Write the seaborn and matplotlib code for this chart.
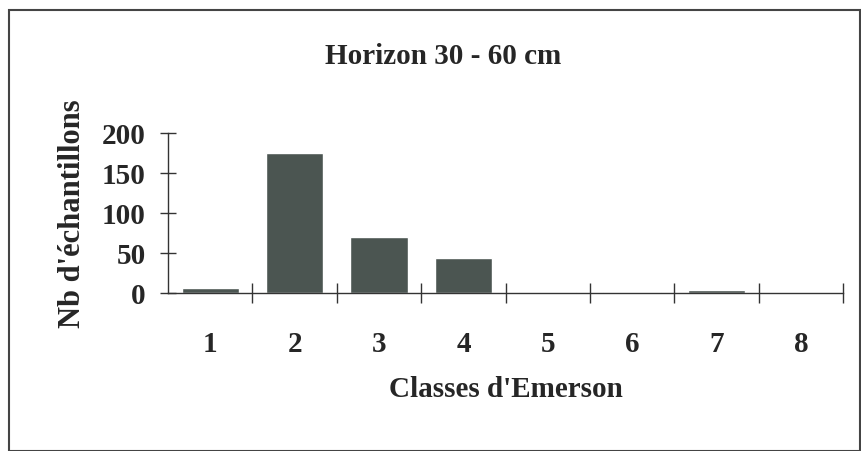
import seaborn as sns
import matplotlib.pyplot as plt
import pandas as pd
from matplotlib.patches import Rectangle

classes = ['1', '2', '3', '4', '5', '6', '7', '8']
counts = [6, 175, 70, 43, 1, 0.5, 3, 0]

title = 'Horizon 30 - 60 cm'
xlabel = "Classes d'Emerson"
ylabel = "Nb d'échantillons"

sns.set_style('white')
plt.rcParams['font.family'] = ['Liberation Serif', 'DejaVu Serif']
plt.rcParams['font.weight'] = 'bold'

df = pd.DataFrame({'classe': classes, 'n': counts})

fig = plt.figure(figsize=(8.62, 4.52), dpi=100)
ax = fig.add_axes([0.195, 0.35, 0.783, 0.354])
sns.barplot(data=df, x='classe', y='n', color='#4b5551', saturation=1,
            width=0.68, ax=ax)

ax.set_xlim(-0.5, 7.5)
ax.set_ylim(0, 200)
ax.set_yticks([0, 50, 100, 150, 200])
ax.set_xticks([i + 0.5 for i in range(len(classes))], minor=False)
ax.set_xticklabels([])
ax.set_xticks(range(len(classes)), minor=True)
ax.set_xticklabels(classes, minor=True)
ax.tick_params(axis='x', which='major', bottom=True, direction='inout', length=14, width=1, color='#333333')
ax.tick_params(axis='x', which='minor', bottom=True, length=0, pad=27, labelsize=21)
ax.tick_params(axis='y', left=True, direction='inout', length=12, width=1, color='#333333', labelsize=21, pad=10)

for s in ['top', 'right']:
    ax.spines[s].set_visible(False)
for s in ['left', 'bottom']:
    ax.spines[s].set_color('#333333')
    ax.spines[s].set_linewidth(1)

ax.set_xlabel(xlabel, fontsize=21, fontweight='bold', labelpad=13)
ax.set_ylabel(ylabel, fontsize=22, fontweight='bold', labelpad=11)
fig.text(0.514, 0.875, title, ha='center', va='center', fontsize=21, fontweight='bold')

fig.patches.append(Rectangle((0.01, 0.0), 0.988, 0.975, transform=fig.transFigure,
                             fill=False, edgecolor='#444444', linewidth=1.5))

fig.savefig('out.png', dpi=100)
